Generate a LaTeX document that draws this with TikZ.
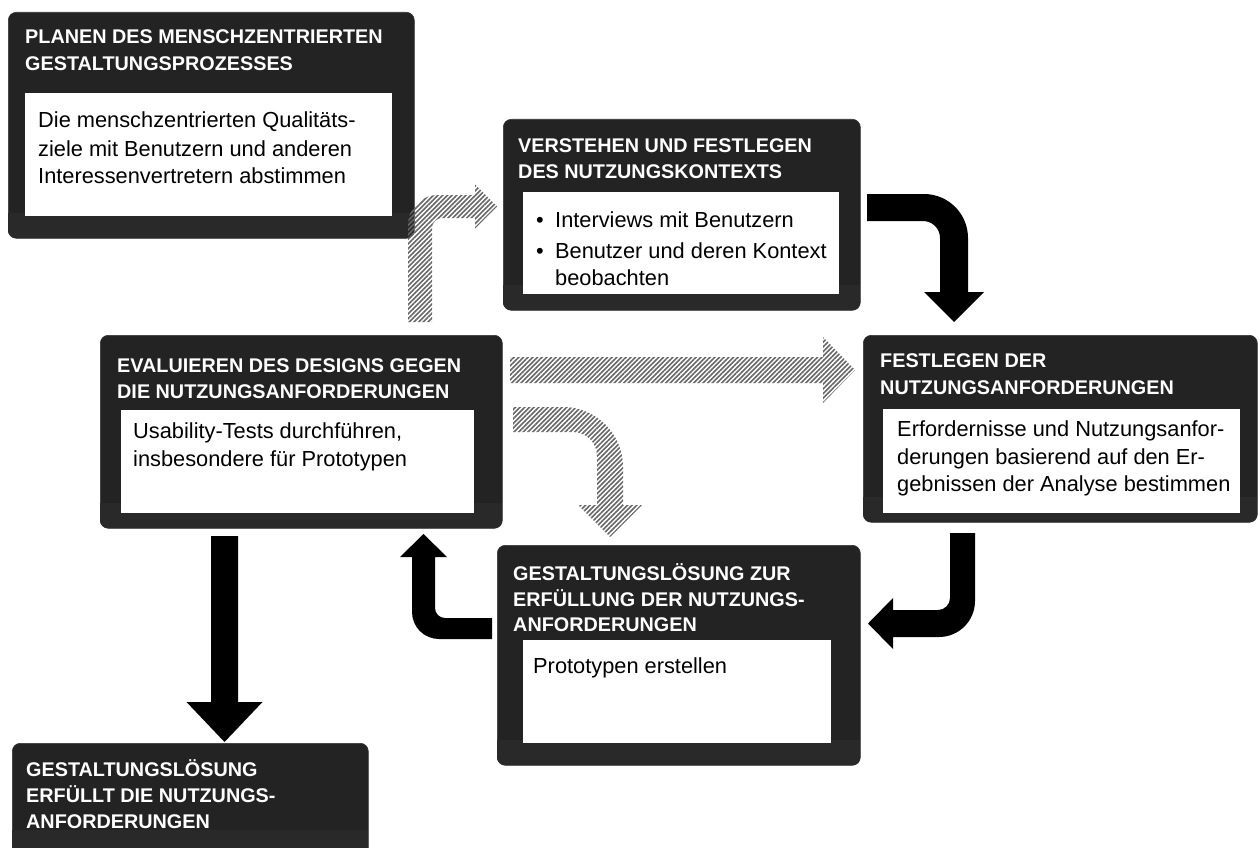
\documentclass[tikz,border=0pt]{standalone}
\usepackage{fontspec}
\setmainfont{Liberation Sans}
\usetikzlibrary{patterns.meta}
\definecolor{boxdark}{HTML}{232323}
\definecolor{boxlow}{HTML}{292929}
\definecolor{hatchgray}{HTML}{666666}
\newcommand\ttlfont{\fontsize{19.8}{26}\selectfont\bfseries}
\newcommand\bdyfont{\fontsize{21.8}{27.5}\selectfont}
\begin{document}
\begin{tikzpicture}[x=1pt,y=-1pt,
  darkbox/.style={fill=boxdark, draw=black!80, line width=0.6pt, rounded corners=8pt, inner sep=0pt, anchor=north west, rectangle},
  whitebox/.style={fill=white, inner sep=0pt, anchor=north west, rectangle},
  ttl/.style={anchor=base west, inner sep=0pt, text=white, font=\ttlfont},
  bdy/.style={anchor=base west, inner sep=0pt, text=black, font=\bdyfont},
  blockarrow/.style={fill=black},
  hatcharrow/.style={pattern={Lines[angle=45,distance=3.3pt,line width=1.6pt]}, pattern color=hatchgray},
]
\useasboundingbox (0,0) rectangle (1260,848);
\clip (0,0) rectangle (1260,848);

% dark boxes
\node[darkbox, minimum width=406pt, minimum height=226pt] (b1) at (8,12) {};
\node[darkbox, minimum width=357pt, minimum height=191pt] (b2) at (503,119) {};
\node[darkbox, minimum width=394pt, minimum height=187pt] (b3) at (863,335) {};
\node[darkbox, minimum width=402pt, minimum height=193pt] (b4) at (100,335) {};
\node[darkbox, minimum width=363pt, minimum height=220pt] (b5) at (497,545) {};
\node[darkbox, minimum width=356pt, minimum height=130pt] (b6) at (12,743) {};

% slightly lighter lower bands
\foreach \xa/\ya/\xb/\yb in {8/12/414/238, 503/119/860/310, 863/335/1257/522, 100/335/502/528, 497/545/860/765, 12/743/368/873}{
  \begin{scope}
    \clip[rounded corners=8pt] (\xa,\ya) rectangle (\xb,\yb);
    \fill[boxlow] (\xa,\yb-25) rectangle (\xb,\yb);
  \end{scope}
}
\fill[boxlow] (12,830) rectangle (368,848);

% white content boxes
\node[whitebox, minimum width=367pt, minimum height=123pt] (w1) at (25,93) {};
\node[whitebox, minimum width=316pt, minimum height=102pt] (w2) at (523,192) {};
\node[whitebox, minimum width=357pt, minimum height=104pt] (w3) at (883,409) {};
\node[whitebox, minimum width=353pt, minimum height=103pt] (w4) at (121,410) {};
\node[whitebox, minimum width=308pt, minimum height=103pt] (w5) at (523,640) {};

% box 1
\node[ttl] (t1a) at (25,44) {PLANEN DES MENSCHZENTRIERTEN};
\node[ttl] (t1b) at (25,71) {GESTALTUNGSPROZESSES};
\node[bdy] (c1a) at (38,128) {Die menschzentrierten Qualitäts-};
\node[bdy] (c1b) at (38,156) {ziele mit Benutzern und anderen};
\node[bdy] (c1c) at (38,183) {Interessenvertretern abstimmen};

% box 2
\node[ttl] (t2a) at (518,153) {VERSTEHEN UND FESTLEGEN};
\node[ttl] (t2b) at (518,178) {DES NUTZUNGSKONTEXTS};
\node[bdy] (p2a) at (536,227) {•};
\node[bdy] (p2b) at (536,258) {•};
\node[bdy] (c2a) at (555,227) {Interviews mit Benutzern};
\node[bdy] (c2b) at (555,258) {Benutzer und deren Kontext};
\node[bdy] (c2c) at (555,285) {beobachten};

% box 3
\node[ttl] (t3a) at (880,367) {FESTLEGEN DER};
\node[ttl] (t3b) at (880,394) {NUTZUNGSANFORDERUNGEN};
\node[bdy] (c3a) at (897,436) {Erfordernisse und Nutzungsanfor-};
\node[bdy] (c3b) at (897,464) {derungen basierend auf den Er-};
\node[bdy] (c3c) at (897,491) {gebnissen der Analyse bestimmen};

% box 4
\node[ttl] (t4a) at (117,372) {EVALUIEREN DES DESIGNS GEGEN};
\node[ttl] (t4b) at (117,398) {DIE NUTZUNGSANFORDERUNGEN};
\node[bdy] (c4a) at (133,438) {Usability-Tests durchführen,};
\node[bdy] (c4b) at (133,466) {insbesondere für Prototypen};

% box 5
\node[ttl] (t5a) at (513,580) {GESTALTUNGSLÖSUNG ZUR};
\node[ttl] (t5b) at (513,606) {ERFÜLLUNG DER NUTZUNGS-};
\node[ttl] (t5c) at (513,631) {ANFORDERUNGEN};
\node[bdy] (c5a) at (533,673) {Prototypen erstellen};

% box 6
\node[ttl] (t6a) at (26,776) {GESTALTUNGSLÖSUNG};
\node[ttl] (t6b) at (26,802) {ERFÜLLT DIE NUTZUNGS-};
\node[ttl] (t6c) at (26,828) {ANFORDERUNGEN};

% black block arrows
% b2 -> b3
\fill[blockarrow] (867,194) -- (924,194) .. controls (948.3,194) and (968,213.7) .. (968,238)
  -- (968,292) -- (984,292) -- (954,322) -- (924,292) -- (940,292) -- (940,238)
  .. controls (940,228.6) and (932.4,221) .. (923,221) -- (867,221) -- cycle;
% b3 -> b5
\fill[blockarrow] (950,533) -- (975,533) -- (975,601) .. controls (975,620.9) and (958.9,637) .. (939,637)
  -- (893,637) -- (893,649) -- (868,623.5) -- (893,598) -- (893,610) -- (938,610)
  .. controls (944.6,610) and (950,604.6) .. (950,598) -- cycle;
% b5 -> b4
\fill[blockarrow] (492,618) -- (445,618) .. controls (439.5,618) and (435,613.5) .. (435,608)
  -- (435,557) -- (447,557) -- (423.5,534) -- (400,557) -- (412,557) -- (412,612)
  .. controls (412,626.9) and (424.1,639) .. (439,639) -- (492,639) -- cycle;
% b4 -> b6
\fill[blockarrow] (211,536) -- (238,536) -- (238,702) -- (262.5,702) -- (224.5,742)
  -- (186.5,702) -- (211,702) -- cycle;

% hatched block arrows
% b4 -> b2
\fill[hatcharrow] (408,322) -- (408,225) .. controls (408,208.4) and (421.4,195) .. (438,195)
  -- (475,195) -- (475,184.5) -- (497,206.5) -- (475,228.5) -- (475,218) -- (442,218)
  .. controls (436.5,218) and (432,222.5) .. (432,228) -- (432,322) -- cycle;
% b4 -> b3
\fill[hatcharrow] (510,357) -- (823,357) -- (823,337) -- (855,370) -- (823,403) -- (823,383) -- (510,383) -- cycle;
% b4 -> b5
\fill[hatcharrow] (513,407) -- (563,407) .. controls (596.1,407) and (623,433.9) .. (623,467)
  -- (623,505) -- (642,505) -- (610,537) -- (578,505) -- (597,505) -- (597,456)
  .. controls (597,442.8) and (586.2,432) .. (573,432) -- (513,432) -- cycle;
\end{tikzpicture}
\end{document}
